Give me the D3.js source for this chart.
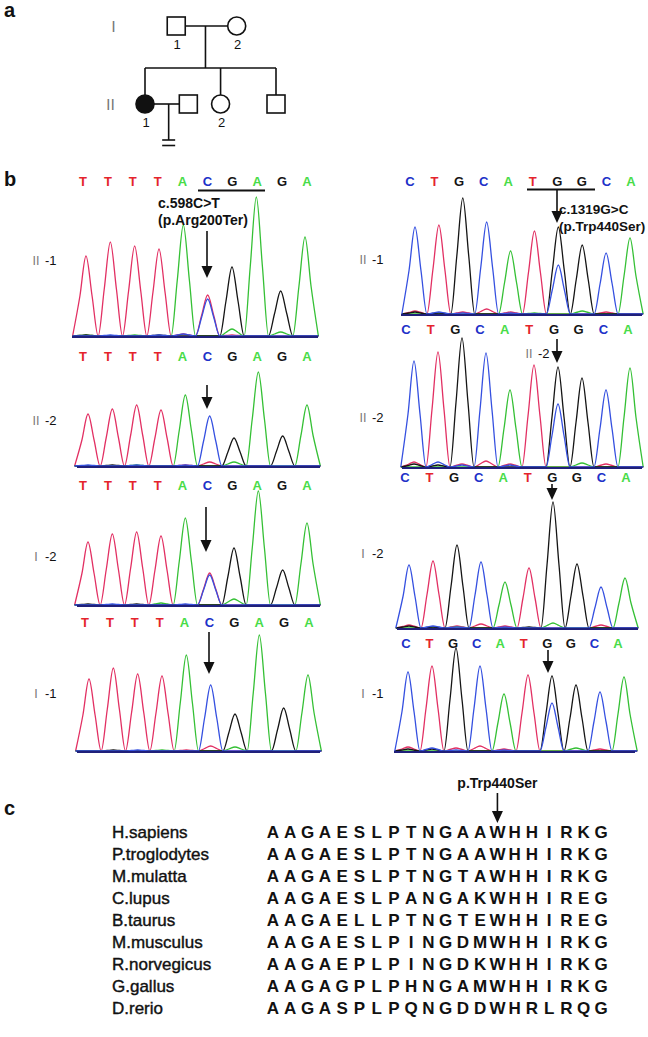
<!DOCTYPE html>
<html>
<head>
<meta charset="utf-8">
<script src="https://cdn.jsdelivr.net/npm/d3@7"></script>
<style>
body { margin: 0; background: #fff; }
svg { display: block; }
text { font-family: "Liberation Sans", Arial, sans-serif; }
</style>
</head>
<body>
<svg id="fig" width="648" height="1037"></svg>
<script>
// ---- data ----
var channels = ["A", "C", "G", "T"];

var leftBases = "TTTTACGAGA".split("");
var rightBases = "CTGCATGGCA".split("");

var traceNames = [["Ⅱ", "1"], ["Ⅱ", "2"], ["Ⅰ", "2"], ["Ⅰ", "1"]];

// peak heights per base, columns A, C, G, T
var left_II1 = [[1,0,1,80],[0,1,0,94],[1,0,0,90],[0,1,1,87],[111,2,0,2],[0,37,0,41],[7,0,69,1],[139,0,0,0],[4,0,45,0],[99,0,0,0]];
var left_II2 = [[0,1,0,52],[0,0,1,57],[1,1,0,61],[0,0,0,56],[71,1,0,1],[0,50,0,4],[4,0,28,0],[94,0,0,0],[0,0,30,0],[61,0,0,0]];
var left_I2  = [[0,0,1,63],[0,1,0,71],[0,0,1,73],[2,0,0,69],[87,1,0,0],[0,30,0,32],[6,0,57,0],[114,0,0,0],[0,0,35,0],[82,0,0,0]];
var left_I1  = [[0,0,0,72],[0,0,1,83],[0,1,0,77],[1,0,0,75],[96,0,0,1],[0,66,0,5],[4,0,37,0],[116,0,0,0],[0,0,43,0],[76,0,0,0]];

var right_II1 = [[0,87,2,3],[0,2,1,89],[0,1,116,2],[0,92,0,5],[63,1,0,2],[1,0,0,83],[0,49,87,0],[3,0,69,0],[0,61,0,2],[76,0,0,0]];
var right_II2 = [[0,106,3,5],[0,5,2,115],[0,2,129,3],[0,114,0,6],[77,2,0,3],[0,0,0,102],[0,63,100,0],[4,0,89,0],[0,77,0,3],[99,0,0,0]];
var right_I2  = [[0,63,2,3],[0,2,1,67],[1,1,83,2],[0,66,0,4],[46,1,0,2],[0,0,1,60],[5,0,126,0],[0,0,64,0],[0,41,0,3],[50,0,0,0]];
var right_I1  = [[0,79,2,4],[0,3,2,85],[0,1,103,3],[0,85,0,5],[57,1,0,2],[0,0,0,76],[0,48,75,0],[3,0,66,0],[0,59,0,2],[74,0,0,0]];

var species = ["H.sapiens", "P.troglodytes", "M.mulatta", "C.lupus", "B.taurus",
               "M.musculus", "R.norvegicus", "G.gallus", "D.rerio"];
var sequences = ["AAGAESLPTNGAAWHHIRKG", "AAGAESLPTNGAAWHHIRKG", "AAGAESLPTNGTAWHHIRKG",
                 "AAGAESLPANGAKWHHIREG", "AAGAELLPTNGTEWHHIREG", "AAGAESLPINGDMWHHIRKG",
                 "AAGAEPLPINGDKWHHIRKG", "AAGAGPLPHNGAMWHHIRKG", "AAGASPLPQNGDDWHRLRQG"];

// pedigree: generation, slot along the row, sex, affected
var pedigree = [
  {id: "I-1",  gen: "I",  slot: 3.1, sex: "m", aff: false, num: "1"},
  {id: "I-2",  gen: "I",  slot: 9.1, sex: "f", aff: false, num: "2"},
  {id: "II-1", gen: "II", slot: 0,   sex: "f", aff: true,  num: "1"},
  {id: "sp",   gen: "II", slot: 4.3, sex: "m", aff: false, num: ""},
  {id: "II-2", gen: "II", slot: 7.5, sex: "f", aff: false, num: "2"},
  {id: "II-3", gen: "II", slot: 13,  sex: "m", aff: false, num: ""}
];

// ---- styles ----
var traceColor = {A: "#35c035", C: "#3550e0", G: "#151515", T: "#e23063"};
var letterColor = {A: "#48dc48", C: "#2030c8", G: "#151515", T: "#e4242c"};
var FONT = '"Liberation Sans", Arial, sans-serif';
var ROMAN = '"Noto Sans CJK SC", "DejaVu Sans", sans-serif';

var svg = d3.select("#fig");
svg.append("rect").attr("width", 648).attr("height", 1037).attr("fill", "#fff");

function panelLabel(t, x, y) {
  svg.append("text").attr("x", x).attr("y", y)
    .attr("font-size", 20).attr("font-weight", "bold").attr("fill", "#111").text(t);
}
panelLabel("a", 4, 17);
panelLabel("b", 4, 186);
panelLabel("c", 4, 815);

function arrow(x, y1, tip) {
  svg.append("line").attr("x1", x).attr("x2", x).attr("y1", y1).attr("y2", tip - 8)
    .attr("stroke", "#111").attr("stroke-width", 1.6);
  svg.append("path")
    .attr("d", "M" + (x - 5.5) + "," + (tip - 12) + "L" + (x + 5.5) + "," + (tip - 12) + "L" + x + "," + tip + "Z")
    .attr("fill", "#111");
}

function genLabel(x, y, roman, num, size) {
  var t = svg.append("text").attr("x", x).attr("y", y);
  t.append("tspan").attr("font-family", ROMAN).attr("fill", "#777")
    .attr("font-size", size).text(roman);
  if (num) {
    t.append("tspan").attr("dx", 3).attr("fill", "#111").attr("font-size", 13)
      .attr("font-family", FONT).text("-" + num);
  }
}

// ---- panel a: pedigree ----
var px = d3.scaleLinear().domain([0, 13]).range([145, 276]);
var py = d3.scalePoint().domain(["I", "II"]).range([26, 104]);
var R = 9;
var ped = svg.append("g").attr("stroke", "#111").attr("stroke-width", 1.6).attr("fill", "none");
function node(id) { return pedigree.filter(function(d){ return d.id === id; })[0]; }

var f = node("I-1"), m = node("I-2");
ped.append("line").attr("x1", px(f.slot) + R).attr("x2", px(m.slot) - R)
  .attr("y1", py("I")).attr("y2", py("I"));
var dropX = (px(f.slot) + px(m.slot)) / 2 - 1;
var sibY = 68;
ped.append("line").attr("x1", dropX).attr("x2", dropX).attr("y1", py("I")).attr("y2", sibY);
var kids = ["II-1", "II-2", "II-3"].map(node);
ped.append("line").attr("x1", px(kids[0].slot)).attr("x2", px(kids[2].slot))
  .attr("y1", sibY).attr("y2", sibY);
kids.forEach(function(k) {
  ped.append("line").attr("x1", px(k.slot)).attr("x2", px(k.slot))
    .attr("y1", sibY).attr("y2", py(k.gen) - R);
});
var p1 = node("II-1"), sp = node("sp");
ped.append("line").attr("x1", px(p1.slot) + R).attr("x2", px(sp.slot) - R)
  .attr("y1", py("II")).attr("y2", py("II"));
var coupleX = (px(p1.slot) + R + px(sp.slot) - R) / 2 + 2;
ped.append("line").attr("x1", coupleX).attr("x2", coupleX).attr("y1", py("II")).attr("y2", 140);
ped.append("line").attr("x1", coupleX - 6.5).attr("x2", coupleX + 6.5).attr("y1", 140).attr("y2", 140);
ped.append("line").attr("x1", coupleX - 6.5).attr("x2", coupleX + 6.5).attr("y1", 145.5).attr("y2", 145.5);

pedigree.forEach(function(d) {
  var cx = px(d.slot), cy = py(d.gen);
  if (d.sex === "m") {
    ped.append("rect").attr("x", cx - R).attr("y", cy - R).attr("width", 2 * R).attr("height", 2 * R)
      .attr("fill", d.aff ? "#111" : "#fff");
  } else {
    ped.append("circle").attr("cx", cx).attr("cy", cy).attr("r", R)
      .attr("fill", d.aff ? "#111" : "#fff");
  }
  if (d.num) {
    svg.append("text").attr("x", cx + 1).attr("y", cy + 23).attr("text-anchor", "middle")
      .attr("font-size", 13).attr("fill", "#111").text(d.num);
  }
});
genLabel(106, py("I") + 6, "Ⅰ", "", 15);
genLabel(103, py("II") + 6, "Ⅱ", "", 15);

// ---- panel b: chromatograms ----
var leftTraces = [left_II1, left_II2, left_I2, left_I1];
var rightTraces = [right_II1, right_II2, right_I2, right_I1];

var leftBoxes = [
  {p0: 86, p1: 305, base: 337, l: 72, r: 318},
  {p0: 88, p1: 307, base: 467, l: 77, r: 320},
  {p0: 88, p1: 307, base: 606, l: 77, r: 320},
  {p0: 89, p1: 308, base: 752, l: 77, r: 320}
];
var rightBoxes = [
  {p0: 415, p1: 630, base: 315, l: 401, r: 642},
  {p0: 414, p1: 630, base: 468, l: 402, r: 642},
  {p0: 409, p1: 625, base: 629, l: 397, r: 638},
  {p0: 408, p1: 624, base: 752, l: 394, r: 635}
];
var leftRows = [{y: 186, x0: 83, x1: 307}, {y: 361, x0: 83, x1: 307},
                {y: 490, x0: 83, x1: 307}, {y: 627, x0: 85, x1: 309}];
var rightRows = [{y: 186, x0: 410, x1: 631}, {y: 334, x0: 406, x1: 628},
                 {y: 482, x0: 405, x1: 626}, {y: 648, x0: 406, x1: 618}];

function drawTrace(heights, box) {
  var g = svg.append("g");
  var x = d3.scaleLinear().domain([0, heights.length - 1]).range([box.p0, box.p1]);
  var y = d3.scaleLinear().domain([0, 150]).range([box.base - 1, box.base - 151]);
  var line = d3.line().x(function(d){ return x(d[0]); }).y(function(d){ return y(d[1]); })
    .curve(d3.curveMonotoneX);
  ["T", "A", "G", "C"].forEach(function(ch) {
    var ci = channels.indexOf(ch);
    var pts = [[-0.55, 0]];
    heights.forEach(function(h, i) {
      var v = h[ci];
      pts.push([i - 0.25, v * 0.5], [i, v], [i + 0.25, v * 0.5], [i + 0.5, 0]);
    });
    pts[pts.length - 1][0] = heights.length - 0.45;
    g.append("path").attr("d", line(pts)).attr("fill", "none")
      .attr("stroke", traceColor[ch]).attr("stroke-width", 1.3);
  });
  g.append("line").attr("x1", box.l).attr("x2", box.r)
    .attr("y1", box.base).attr("y2", box.base)
    .attr("stroke", "#20207a").attr("stroke-width", 2.2);
}

function drawLetters(bases, row) {
  var x = d3.scalePoint().domain(d3.range(bases.length)).range([row.x0, row.x1]);
  svg.append("g").selectAll("text").data(bases).join("text")
    .attr("x", function(d, i){ return x(i); }).attr("y", row.y)
    .attr("text-anchor", "middle").attr("font-size", 13).attr("font-weight", "bold")
    .attr("fill", function(d){ return letterColor[d]; }).text(function(d){ return d; });
}

leftTraces.forEach(function(h, i) {
  drawTrace(h, leftBoxes[i]);
  drawLetters(leftBases, leftRows[i]);
});
rightTraces.forEach(function(h, i) {
  drawTrace(h, rightBoxes[i]);
  drawLetters(rightBases, rightRows[i]);
});

var leftLabelY = [265, 425, 561, 698];
var rightLabelY = [264, 422, 558, 698];
traceNames.forEach(function(n, i) {
  genLabel(30, leftLabelY[i], n[0], n[1], 12);
  genLabel(357, rightLabelY[i], n[0], n[1], 12);
});
genLabel(523, 358, "Ⅱ", "2", 12);

// codon underlines and mutation notes
svg.append("line").attr("x1", 198).attr("x2", 265).attr("y1", 190.5).attr("y2", 190.5)
  .attr("stroke", "#111").attr("stroke-width", 2);
svg.append("line").attr("x1", 527).attr("x2", 595).attr("y1", 189.5).attr("y2", 189.5)
  .attr("stroke", "#111").attr("stroke-width", 2);

function note(x, y, lines, size) {
  lines.forEach(function(t, i) {
    svg.append("text").attr("x", x).attr("y", y + i * 17)
      .attr("font-size", size).attr("font-weight", "bold").attr("fill", "#111").text(t);
  });
}
note(158, 208, ["c.598C>T", "(p.Arg200Ter)"], 14);
note(559, 214, ["c.1319G>C", "(p.Trp440Ser)"], 13.5);

arrow(207, 231, 278);
arrow(207, 385, 409);
arrow(206, 507, 552);
arrow(209, 632, 674);
arrow(557, 190, 223);
arrow(557, 339, 363);
arrow(552, 484, 500);
arrow(548, 650, 673);

// ---- panel c: alignment ----
var col = d3.scalePoint().domain(d3.range(20)).range([273, 601]);
var row = d3.scalePoint().domain(species).range([838, 1014]);

svg.append("text").attr("x", col(13)).attr("y", 788).attr("text-anchor", "middle")
  .attr("font-size", 14).attr("font-weight", "bold").attr("fill", "#111").text("p.Trp440Ser");
arrow(col(13), 793, 823);

var al = svg.append("g");
al.selectAll("text.sp").data(species).join("text").attr("class", "sp")
  .attr("x", 112).attr("y", function(d){ return row(d); })
  .attr("font-size", 17).attr("fill", "#111").attr("stroke", "#111").attr("stroke-width", 0.4)
  .text(function(d){ return d; });

sequences.forEach(function(s, r) {
  al.append("g").selectAll("text").data(s.split("")).join("text")
    .attr("x", function(d, i){ return col(i); }).attr("y", row(species[r]))
    .attr("text-anchor", "middle").attr("font-size", 17).attr("font-weight", "bold")
    .attr("fill", "#111").text(function(d){ return d; });
});
</script>
</body>
</html>
